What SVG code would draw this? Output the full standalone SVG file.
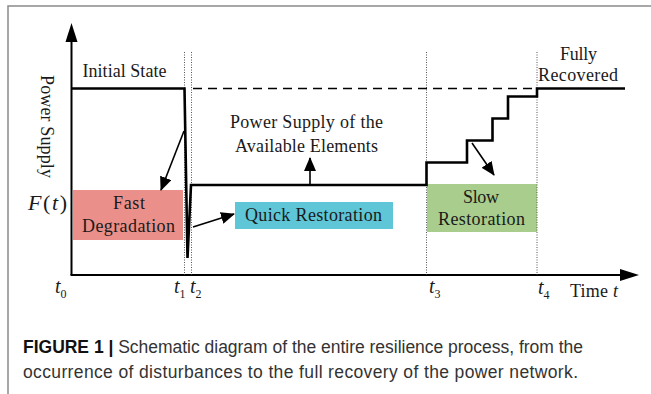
<svg xmlns="http://www.w3.org/2000/svg" width="651" height="394" viewBox="0 0 651 394">
<style>
.lbl{font-family:"Liberation Serif","Times New Roman",serif;font-size:18px;fill:#1a1a1a}
.math{font-family:"Liberation Serif","Times New Roman",serif;fill:#1a1a1a}
.it{font-style:italic}
.sub{font-size:12px}
.cap{font-family:"Liberation Sans",Arial,sans-serif;font-size:17.5px;fill:#333}
.curve{fill:none;stroke:#000;stroke-width:2.6;stroke-linejoin:miter}
.axis{fill:none;stroke:#000;stroke-width:2}
.guide{fill:none;stroke:#555;stroke-width:1;stroke-dasharray:1 1.5}
.dash{fill:none;stroke:#000;stroke-width:1.6;stroke-dasharray:9 6}
.arr{fill:none;stroke:#000;stroke-width:1.6;marker-end:url(#ah)}
</style>
<defs>
<marker id="ah" markerUnits="userSpaceOnUse" markerWidth="14" markerHeight="12" viewBox="0 0 14 12" refX="13" refY="6" orient="auto">
<path d="M0,0 L14,6 L0,12 Z" fill="#000"/>
</marker>
</defs>
<rect x="0" y="0" width="651" height="394" fill="#fff"/>
<g id="frame">
<path d="M8,394 V6 H651" fill="none" stroke="#8a8a8a" stroke-width="1.5"/>
</g>
<g id="axes">
<line class="axis" x1="71.5" y1="275" x2="71.5" y2="40"/>
<polygon points="71.5,23 65.5,42 77.5,42" fill="#000"/>
<line class="axis" x1="70.5" y1="275" x2="622" y2="275"/>
<polygon points="639,275 620,269 620,281" fill="#000"/>
<text class="lbl" transform="translate(41,75) rotate(90)" textLength="103">Power Supply</text>
<text class="math" x="28" y="210" font-size="22" textLength="39"><tspan class="it">F</tspan>(<tspan class="it">t</tspan>)</text>
<text class="math" x="55" y="293" font-size="20"><tspan class="it">t</tspan><tspan class="sub" dy="5">0</tspan></text>
<text class="math" x="174" y="293" font-size="20"><tspan class="it">t</tspan><tspan class="sub" dy="5">1</tspan></text>
<text class="math" x="190" y="293" font-size="20"><tspan class="it">t</tspan><tspan class="sub" dy="5">2</tspan></text>
<text class="math" x="429" y="293" font-size="20"><tspan class="it">t</tspan><tspan class="sub" dy="5">3</tspan></text>
<text class="math" x="538" y="294" font-size="20"><tspan class="it">t</tspan><tspan class="sub" dy="5">4</tspan></text>
<text class="lbl" x="570" y="297" textLength="48">Time <tspan class="it">t</tspan></text>
</g>
<g id="initial-state">
<text class="lbl" x="82.5" y="77" textLength="84">Initial State</text>
</g>
<g id="fully-recovered">
<text class="lbl" x="560" y="60" textLength="37">Fully</text>
<text class="lbl" x="538" y="81" textLength="80">Recovered</text>
</g>
<g id="available-elements">
<text class="lbl" x="230" y="128" textLength="153">Power Supply of the</text>
<text class="lbl" x="235" y="152" textLength="143">Available Elements</text>
</g>
<g id="fast-degradation">
<rect x="73" y="190" width="110" height="50" fill="#eb8f8a"/>
<text class="lbl" x="113" y="209" textLength="32">Fast</text>
<text class="lbl" x="82" y="232" textLength="93">Degradation</text>
</g>
<g id="quick-restoration">
<rect x="235" y="202" width="158" height="27" fill="#5ec6d6"/>
<text class="lbl" x="245" y="221" textLength="137">Quick Restoration</text>
</g>
<g id="slow-restoration">
<rect x="427" y="184" width="110" height="48" fill="#a9cd8c"/>
<text class="lbl" x="463" y="203" textLength="36">Slow</text>
<text class="lbl" x="438" y="225" textLength="87">Restoration</text>
</g>
<g id="connectors">
<line class="guide" x1="184.5" y1="52" x2="184.5" y2="275"/>
<line class="guide" x1="191.5" y1="52" x2="191.5" y2="275"/>
<line class="guide" x1="426.5" y1="52" x2="426.5" y2="275"/>
<line class="guide" x1="537" y1="52" x2="537" y2="275"/>
<line class="dash" x1="193" y1="88.5" x2="537" y2="88.5"/>
<path class="curve" d="M71.5,88.5 H184.5 L187.5,258 L191,185 H426.5 V162.5 H467 V140.5 H492.5 V118.5 H508 V96.5 H537 V88.5 H625"/>
<line class="arr" x1="184" y1="131" x2="161" y2="190"/>
<line class="arr" x1="193" y1="227" x2="234" y2="214"/>
<line class="arr" x1="310" y1="185" x2="310" y2="158"/>
<line class="arr" x1="472" y1="143" x2="494" y2="175"/>
</g>
<g id="caption">
<text class="cap" x="23" y="353" textLength="560"><tspan font-weight="bold" fill="#111">FIGURE 1 |</tspan> Schematic diagram of the entire resilience process, from the</text>
<text class="cap" x="23" y="378" textLength="555">occurrence of disturbances to the full recovery of the power network.</text>
</g>
</svg>
